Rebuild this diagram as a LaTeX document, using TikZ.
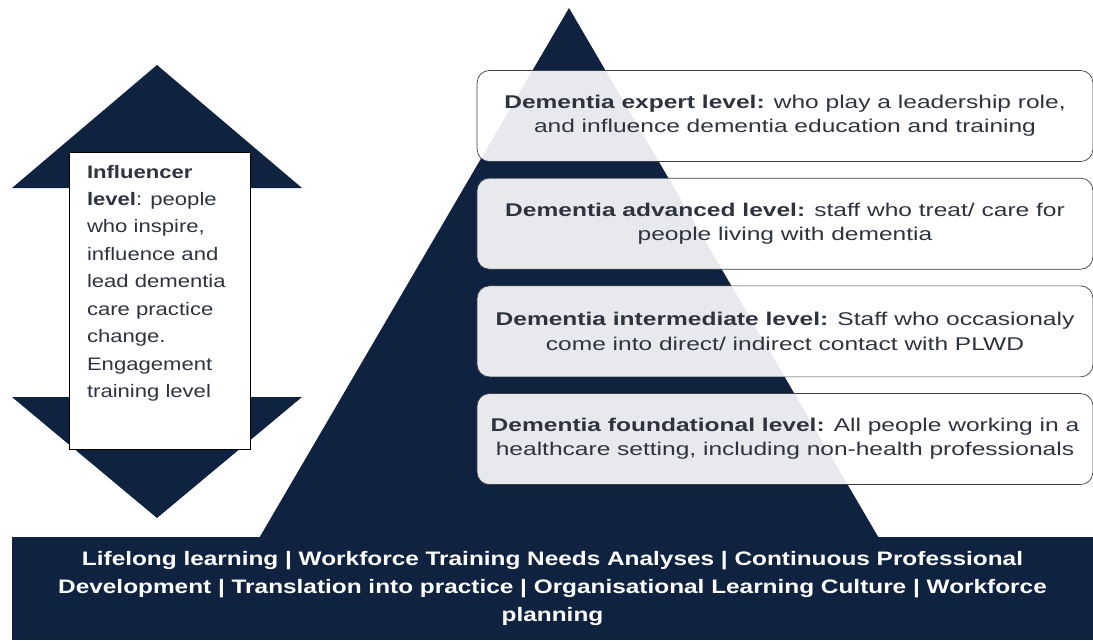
\documentclass[tikz,border=0pt]{standalone}
\usepackage{fontspec}
\setmainfont{Liberation Sans}
\newfontfamily\tierfont[FakeStretch=1.33]{Liberation Sans}
\newfontfamily\sidefont[FakeStretch=1.22]{Liberation Sans}
\newfontfamily\bandfont[FakeStretch=1.25]{Liberation Sans}
\usetikzlibrary{positioning}
\definecolor{navy}{HTML}{0F2240}
\definecolor{ink}{HTML}{2D3440}
\definecolor{edge}{HTML}{3A3F47}

\begin{document}
\begin{tikzpicture}[x=0.02cm, y=-0.02cm,
      every node/.style={text=ink},
      tier/.style={draw=edge, fill=white, fill opacity=0.9, text opacity=1,
                   rounded corners=7pt, minimum width=12.32cm, minimum height=1.82cm,
                   align=center, font=\tierfont\fontsize{10.5}{13.7}\selectfont},
      shaft/.style={draw=black, fill=white, minimum width=3.62cm, minimum height=5.94cm},
      band/.style={fill=navy, text=white, minimum width=21.62cm, minimum height=2.06cm,
                   align=center, font=\bandfont\bfseries\fontsize{11.1}{15.9}\selectfont}]

    \useasboundingbox (0,0) rectangle (1093,640);

    % pyramid behind the level boxes
    \fill[navy] (569,8) -- (258,540) -- (880,540) -- cycle;

    % base band
    \node[band] (basis) at (552.5,588.5)
      {Lifelong learning | Workforce Training Needs Analyses | Continuous Professional\\
       Development | Translation into practice | Organisational Learning Culture | Workforce\\
       planning};

    % double arrow on the left: two heads and a white shaft
    \fill[navy] (12,188) -- (157,65) -- (302,188) -- cycle;
    \fill[navy] (12,397) -- (157,518) -- (302,397) -- cycle;
    \node[shaft] (shaft) at (159.5,300.5) {};
    \node[anchor=north west, align=left, inner sep=0pt,
          font=\sidefont\fontsize{10.3}{15.6}\selectfont] (influencer)
      at ([xshift=0.36cm, yshift=-0.26cm]shaft.north west)
      {\textbf{Influencer}\\ \textbf{level}: people\\ who inspire,\\ influence and\\
       lead dementia\\ care practice\\ change.\\ Engagement\\ training level};

    % the four levels, top to bottom
    \node[tier] (expert) at (785,116)
      {\textbf{Dementia expert level:} who play a leadership role,\\
       and influence dementia education and training};
    \node[tier, below=0.32cm of expert] (advanced)
      {\textbf{Dementia advanced level:} staff who treat/ care for\\
       people living with dementia};
    \node[tier, below=0.32cm of advanced] (intermediate)
      {\textbf{Dementia intermediate level:} Staff who occasionaly\\
       come into direct/ indirect contact with PLWD};
    \node[tier, below=0.32cm of intermediate] (foundational)
      {\textbf{Dementia foundational level:} All people working in a\\
       healthcare setting, including non-health professionals};
\end{tikzpicture}
\end{document}
